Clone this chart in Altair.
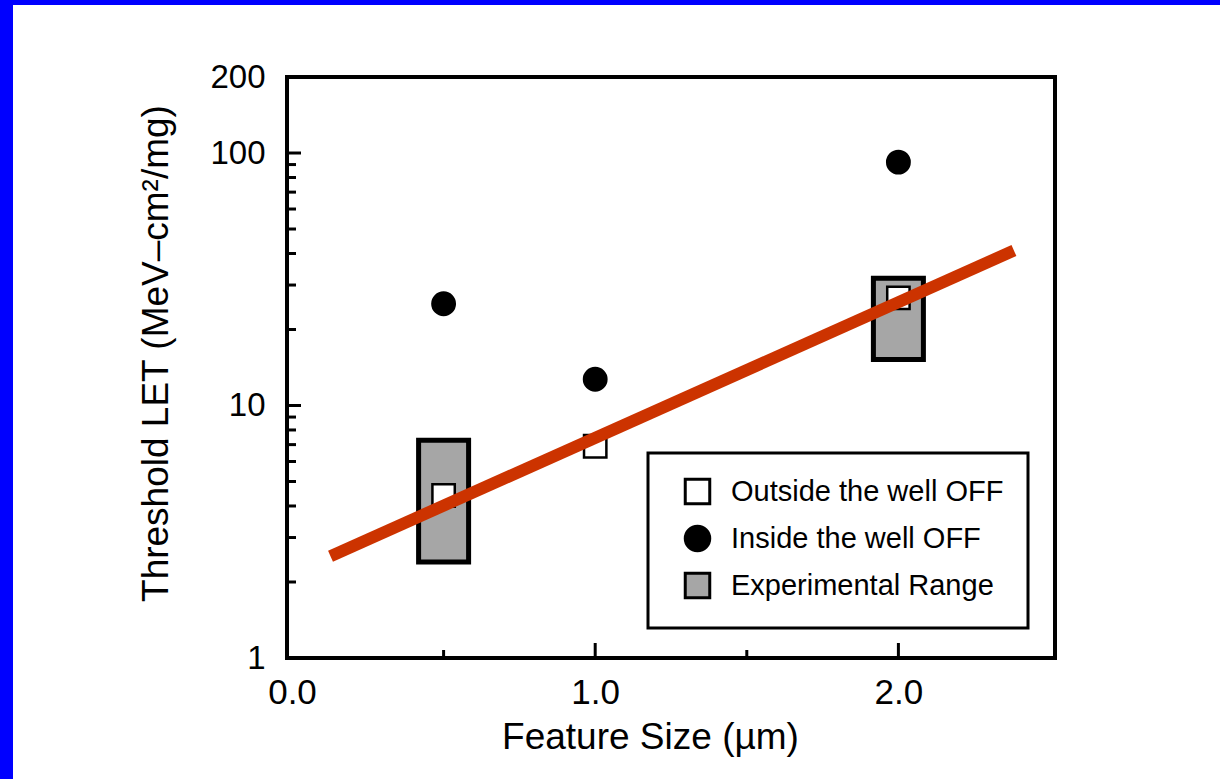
import altair as alt
import pandas as pd

# ---------------- data ----------------
features = [0.5, 1.0, 2.0]
outside_let = [4.4, 6.9, 26.7]          # open squares
inside_let = [25.3, 12.7, 92.0]         # filled circles
range_feature = [0.5, 2.0]              # experimental range boxes
range_low = [2.40, 15.2]
range_high = [7.29, 31.9]
fit_x = [0.127, 2.381]                  # red trend line
fit_y = [2.53, 41.1]

x_label_values = [0.0, 1.0, 2.0]
x_major_ticks = [1.0, 2.0]
x_minor_ticks = [0.5, 1.5]
y_label_values = [1, 10, 100, 200]
y_major_ticks = [10, 100]
y_minor_ticks = [2, 3, 4, 5, 6, 7, 8, 9, 20, 30, 40, 50, 60, 70, 80, 90]

series_names = ["Outside the well OFF", "Inside the well OFF", "Experimental Range"]
series_shapes = ["square", "circle", "square"]
series_fills = ["white", "black", "#a6a6a6"]
series_strokes = ["black", "black", "black"]

# ---------------- layout ----------------
W, H = 768, 581
PAD_L, PAD_T = 287, 77
TOTAL_W, TOTAL_H = 1220, 779
FONT = "Liberation Sans"

xscale = alt.Scale(domain=[0, 2.5], nice=False, zero=False)
yscale = alt.Scale(type="log", domain=[1, 200], nice=False)

xaxis = alt.Axis(values=x_label_values, format=".1f", title="Feature Size (µm)",
                 ticks=False, domain=False, grid=False, labelFlush=False,
                 labelFontSize=35, labelPadding=17, labelFont=FONT, labelColor="black",
                 labelOverlap=False,
                 titleFont=FONT, titleFontSize=37, titleFontWeight="normal", titleColor="black",
                 titleX=363, titleY=90, titleBaseline="alphabetic", titleAlign="center")
yaxis = alt.Axis(values=y_label_values, format="d", title="Threshold LET (MeV–cm²/mg)",
                 ticks=False, domain=False, grid=False, labelFlush=False,
                 labelFontSize=33, labelPadding=22, labelFont=FONT, labelColor="black",
                 labelOverlap=False, labelBaseline="middle",
                 titleFont=FONT, titleFontSize=37, titleFontWeight="normal", titleColor="black",
                 titleAngle=270, titleX=-120, titleY=276, titleBaseline="alphabetic",
                 titleAlign="center")

X = lambda: alt.X("x:Q", scale=xscale, axis=xaxis)
Y = lambda: alt.Y("y:Q", scale=yscale, axis=yaxis)

# decorative blue frame (top and left edges of the slide)
one = alt.Data(values=[{"k": 1}])
blue_top = alt.Chart(one).mark_rect(color="#0000ff").encode(
    x=alt.value(-PAD_L), x2=alt.value(TOTAL_W - PAD_L),
    y=alt.value(-PAD_T), y2=alt.value(-PAD_T + 5))
blue_left = alt.Chart(one).mark_rect(color="#0000ff").encode(
    x=alt.value(-PAD_L), x2=alt.value(-PAD_L + 13),
    y=alt.value(-PAD_T), y2=alt.value(TOTAL_H - PAD_T))

# inward tick marks
ytick_major = alt.Chart(pd.DataFrame({"y": y_major_ticks})).mark_rule(color="black", strokeWidth=3).encode(
    y=Y(), x=alt.value(0), x2=alt.value(14))
ytick_minor = alt.Chart(pd.DataFrame({"y": y_minor_ticks})).mark_rule(color="black", strokeWidth=3).encode(
    y=Y(), x=alt.value(0), x2=alt.value(9))
xtick_major = alt.Chart(pd.DataFrame({"x": x_major_ticks})).mark_rule(color="black", strokeWidth=3).encode(
    x=X(), y=alt.value(H), y2=alt.value(H - 15))
xtick_minor = alt.Chart(pd.DataFrame({"x": x_minor_ticks})).mark_rule(color="black", strokeWidth=3).encode(
    x=X(), y=alt.value(H), y2=alt.value(H - 8))

# experimental range boxes
ranges = pd.DataFrame({"x": range_feature, "y": range_low, "y2": range_high})
boxes = alt.Chart(ranges).mark_bar(size=50, fill="#a6a6a6", stroke="black", strokeWidth=5).encode(
    x=X(), y=Y(), y2="y2:Q")

# points with legend
pts = pd.DataFrame({
    "x": features + features,
    "y": outside_let + inside_let,
    "series": [series_names[0]] * 3 + [series_names[1]] * 3,
})
leg = alt.Legend(title=None, orient="none", legendX=361, legendY=376,
                 padding=24, symbolOffset=11, labelOffset=19, rowPadding=10,
                 labelFont=FONT, labelFontSize=29, labelColor="black", labelLimit=600,
                 symbolSize=600, symbolStrokeWidth=3,
                 strokeColor="black", fillColor="white")
points = alt.Chart(pts).mark_point(filled=True, size=500, strokeWidth=2.5, opacity=1).encode(
    x=X(), y=Y(),
    shape=alt.Shape("series:N", scale=alt.Scale(domain=series_names, range=series_shapes), legend=leg),
    fill=alt.Fill("series:N", scale=alt.Scale(domain=series_names, range=series_fills), legend=leg),
    stroke=alt.Stroke("series:N", scale=alt.Scale(domain=series_names, range=series_strokes), legend=leg),
)

# red fit line
line = alt.Chart(pd.DataFrame({"x": fit_x, "y": fit_y})).mark_line(
    color="#cc3300", strokeWidth=12, strokeCap="butt").encode(x=X(), y=Y())

chart = alt.layer(
    blue_top, blue_left, ytick_major, ytick_minor, xtick_major, xtick_minor,
    boxes, points, line
).properties(
    width=W, height=H,
    autosize=alt.AutoSizeParams(type="none"),
    padding={"left": PAD_L, "top": PAD_T, "right": TOTAL_W - PAD_L - W, "bottom": TOTAL_H - PAD_T - H},
    background="white",
).configure_view(
    stroke="black", strokeWidth=4, fill="white"
).configure_legend(
    strokeWidth=3
)

chart.save("out.html", embed_options={"renderer": "svg", "actions": False})
